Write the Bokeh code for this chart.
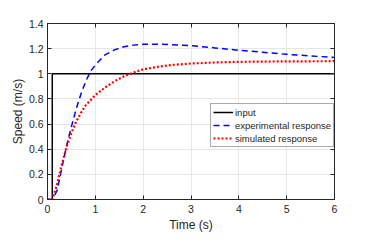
from bokeh.plotting import figure
from bokeh.models import LinearAxis, FixedTicker, CustomJSTickFormatter, Range1d, Legend, LegendItem
from bokeh.embed import file_html
from bokeh.resources import INLINE

t_in = [0, 0.1, 0.1, 6]
v_in = [0, 0, 1, 1]

t_exp = [0, 0.1, 0.2, 0.3, 0.4, 0.5, 0.6, 0.7, 0.8, 0.9, 1.0, 1.2, 1.4, 1.6, 1.8, 2.0, 2.3, 2.6, 3.0, 3.5, 4.0, 4.5, 5.0, 5.5, 6.0]
v_exp = [0, 0, 0.07, 0.25, 0.43, 0.58, 0.72, 0.84, 0.94, 1.02, 1.07, 1.15, 1.19, 1.215, 1.228, 1.234, 1.235, 1.232, 1.224, 1.206, 1.187, 1.171, 1.155, 1.142, 1.13]

t_sim = [0, 0.1, 0.2, 0.3, 0.4, 0.5, 0.6, 0.7, 0.8, 0.9, 1.0, 1.2, 1.4, 1.6, 1.8, 2.0, 2.3, 2.6, 3.0, 3.5, 4.0, 5.0, 6.0]
v_sim = [0, 0, 0.12, 0.28, 0.42, 0.53, 0.62, 0.69, 0.75, 0.79, 0.83, 0.89, 0.94, 0.98, 1.01, 1.035, 1.055, 1.07, 1.082, 1.09, 1.095, 1.099, 1.1]

x_ticks = [0, 1, 2, 3, 4, 5, 6]
y_ticks = [0, 0.2, 0.4, 0.6, 0.8, 1.0, 1.2, 1.4]

FONT = "Liberation Sans"
DARK = "#262626"

p = figure(width=385, height=245, output_backend="svg", toolbar_location=None,
           x_range=Range1d(0, 6), y_range=Range1d(0, 1.4),
           min_border_left=47, min_border_right=51, min_border_top=23, min_border_bottom=46)
p.background_fill_color = "white"
p.outline_line_color = DARK
p.outline_line_width = 1

fmt = CustomJSTickFormatter(code="return Number(tick.toFixed(1)).toString();")
blank = CustomJSTickFormatter(code="return '';")

for ax in (p.xaxis[0], p.yaxis[0]):
    ax.major_tick_in = 4
    ax.major_tick_out = 0
    ax.minor_tick_line_color = None
    ax.axis_line_color = DARK
    ax.major_tick_line_color = DARK
    ax.major_label_text_font = FONT
    ax.major_label_text_font_size = "10.5px"
    ax.major_label_text_color = DARK
    ax.axis_label_text_font = FONT
    ax.axis_label_text_font_size = "12px"
    ax.axis_label_text_font_style = "normal"
    ax.axis_label_text_color = DARK
    ax.formatter = fmt

p.xaxis[0].ticker = FixedTicker(ticks=x_ticks)
p.yaxis[0].ticker = FixedTicker(ticks=y_ticks)
p.xaxis[0].axis_label = "Time (s)"
p.yaxis[0].axis_label = "Speed (m/s)"
p.xaxis[0].major_label_standoff = 5
p.yaxis[0].major_label_standoff = 4
p.xaxis[0].axis_label_standoff = 2
p.yaxis[0].axis_label_standoff = 1

for loc, tk in (("above", x_ticks), ("right", y_ticks)):
    a = LinearAxis(ticker=FixedTicker(ticks=tk), major_tick_in=4, major_tick_out=0,
                   minor_tick_line_color=None, axis_line_color=DARK, major_tick_line_color=DARK,
                   formatter=blank, major_label_text_font_size="8px", major_label_standoff=0)
    p.add_layout(a, loc)

p.xgrid.ticker = FixedTicker(ticks=x_ticks)
p.ygrid.ticker = FixedTicker(ticks=y_ticks)
p.grid.grid_line_color = "#e6e6e6"
p.grid.grid_line_width = 1

r_in = p.line(t_in, v_in, line_color="black", line_width=1.5)
r_exp = p.line(t_exp, v_exp, line_color="#0000ff", line_width=1.5, line_dash="6 4")
r_sim = p.line(t_sim, v_sim, line_color="#ff0000", line_width=2.2, line_dash="2 2")

legend = Legend(items=[
    LegendItem(label="input", renderers=[r_in]),
    LegendItem(label="experimental response", renderers=[r_exp]),
    LegendItem(label="simulated response", renderers=[r_sim]),
], location=(163, 52))
legend.label_text_font = FONT
legend.label_text_font_size = "9.5px"
legend.label_text_color = DARK
legend.glyph_width = 20
legend.glyph_height = 12
legend.label_height = 12
legend.label_standoff = 2
legend.spacing = 1
legend.padding = 2
legend.margin = 0
legend.border_line_color = "#555555"
legend.border_line_width = 1
legend.background_fill_alpha = 1
p.add_layout(legend, "center")

open("out.html", "w").write(file_html(p, INLINE))
